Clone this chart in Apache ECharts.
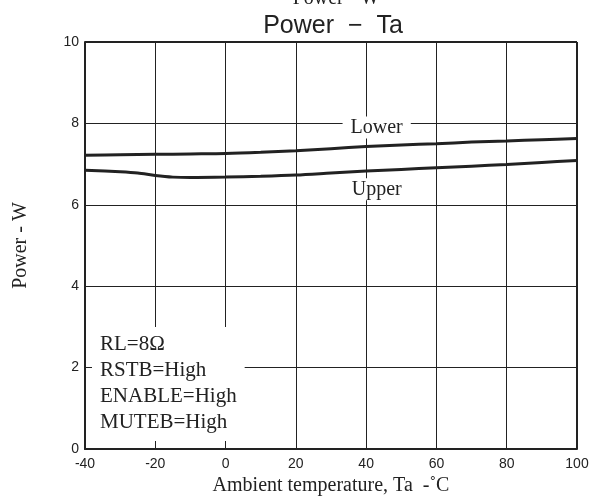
<!DOCTYPE html>
<html>
<head>
<meta charset="utf-8">
<script src="https://cdn.jsdelivr.net/npm/echarts@6/dist/echarts.min.js"></script>
<style>
  html, body { margin: 0; padding: 0; background: #fff; }
  #chart { width: 600px; height: 501px; }
</style>
</head>
<body>
<div id="chart"></div>
<script>
// 读图估计的曲线数据（x: 环境温度 ℃, y: 功率 W）
const lowerTemps = [-40, -30, -20, -10, 0, 10, 20, 30, 40, 50, 60, 70, 80, 90, 100];
const lowerPower = [7.22, 7.23, 7.24, 7.25, 7.26, 7.29, 7.33, 7.38, 7.43, 7.47, 7.50, 7.54, 7.57, 7.60, 7.63];

const upperTemps = [-40, -30, -25, -20, -15, -10, 0, 10, 20, 30, 40, 50, 60, 70, 80, 90, 100];
const upperPower = [6.85, 6.81, 6.78, 6.72, 6.68, 6.67, 6.68, 6.70, 6.73, 6.78, 6.83, 6.87, 6.91, 6.95, 6.99, 7.04, 7.09];

const xTicks = [-40, 100, 20];   // min, max, interval
const yTicks = [0, 10, 2];

const conditions = ['RL=8Ω', 'RSTB=High', 'ENABLE=High', 'MUTEB=High'];

const serif = '"Liberation Serif", "DejaVu Serif", serif';
const sans = '"Liberation Sans", Arial, sans-serif';

const pair = (xs, ys) => xs.map((x, i) => [x, ys[i]]);

const curveLabel = (text, coord) => ({
  coord,
  symbol: 'rect',
  symbolSize: 0,
  label: {
    show: true, position: 'inside', formatter: text,
    fontFamily: serif, fontSize: 20, color: '#222',
    backgroundColor: '#fff', padding: [1, 8]
  }
});

const chart = echarts.init(document.getElementById('chart'));
chart.setOption({
  animation: false,
  title: [
    {
      text: 'Power - W', left: 331, top: -16, textAlign: 'center',
      textStyle: { fontFamily: serif, fontSize: 20, fontWeight: 'normal', color: '#222' }
    },
    {
      text: 'Power  −  Ta', left: 328, top: 9, textAlign: 'center',
      textStyle: { fontFamily: sans, fontSize: 25, fontWeight: 'normal', color: '#222' }
    },
    {
      text: conditions.join('\n'), left: 92, top: 327,
      backgroundColor: '#fff', padding: [4, 8, 6, 8],
      textStyle: { fontFamily: serif, fontSize: 21, fontWeight: 'normal', color: '#222', lineHeight: 26 }
    }
  ],
  grid: { left: 85, right: 23, top: 42, bottom: 52 },
  xAxis: {
    type: 'value', min: xTicks[0], max: xTicks[1], interval: xTicks[2],
    name: 'Ambient temperature, Ta  -˚C', nameLocation: 'middle', nameGap: 27,
    nameTextStyle: { fontFamily: serif, fontSize: 20, color: '#222' },
    axisLine: { show: true, onZero: false, lineStyle: { color: '#222', width: 2 } },
    axisTick: { show: false },
    axisLabel: { fontFamily: sans, fontSize: 14, color: '#222', margin: 8 },
    splitLine: { show: true, lineStyle: { color: '#222', width: 1 } }
  },
  yAxis: {
    type: 'value', min: yTicks[0], max: yTicks[1], interval: yTicks[2],
    name: 'Power - W', nameLocation: 'middle', nameGap: 54,
    nameTextStyle: { fontFamily: serif, fontSize: 20, color: '#222' },
    axisLine: { show: true, onZero: false, lineStyle: { color: '#222', width: 2 } },
    axisTick: { show: false },
    axisLabel: { fontFamily: sans, fontSize: 14, color: '#222', margin: 6 },
    splitLine: { show: true, lineStyle: { color: '#222', width: 1 } }
  },
  series: [
    {
      name: 'Lower', type: 'line', data: pair(lowerTemps, lowerPower),
      smooth: 0.3, showSymbol: false,
      lineStyle: { color: '#222', width: 3 },
      markPoint: { data: [curveLabel('Lower', [43, 7.9])] }
    },
    {
      name: 'Upper', type: 'line', data: pair(upperTemps, upperPower),
      smooth: 0.3, showSymbol: false,
      lineStyle: { color: '#222', width: 3 },
      markPoint: { data: [curveLabel('Upper', [43, 6.38])] }
    },
    {
      // 右侧和顶部边框
      type: 'line', data: [], silent: true,
      markLine: {
        symbol: 'none', silent: true, label: { show: false },
        lineStyle: { color: '#222', width: 2, type: 'solid' },
        data: [{ xAxis: xTicks[1] }, { yAxis: yTicks[1] }]
      }
    }
  ]
});
</script>
</body>
</html>
